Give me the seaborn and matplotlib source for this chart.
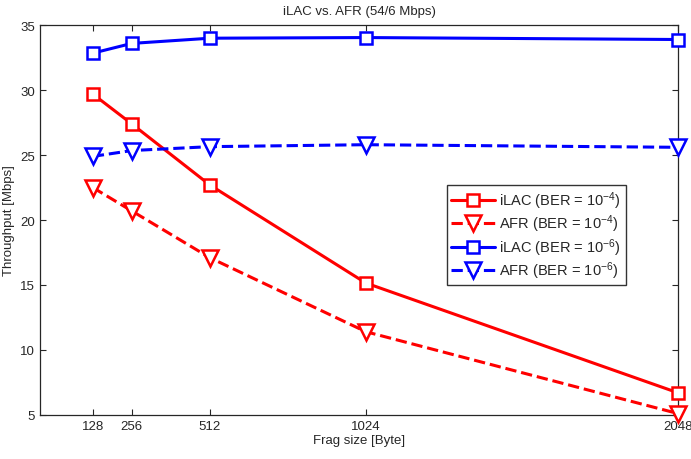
import pandas as pd
import seaborn as sns
import matplotlib.pyplot as plt

# data
frag_size = [128, 256, 512, 1024, 2048]
ilac_ber4 = [29.7, 27.4, 22.7, 15.15, 6.7]
afr_ber4 = [22.5, 20.7, 17.1, 11.4, 5.1]
ilac_ber6 = [32.85, 33.6, 34.0, 34.05, 33.9]
afr_ber6 = [24.9, 25.35, 25.65, 25.8, 25.6]

sns.set_style("ticks")
plt.rcParams['font.family'] = ['Liberation Sans', 'DejaVu Sans']
plt.rcParams['mathtext.fontset'] = 'custom'
plt.rcParams['mathtext.rm'] = 'Liberation Sans'
plt.rcParams['mathtext.it'] = 'Liberation Sans'
plt.rcParams['xtick.direction'] = 'in'
plt.rcParams['ytick.direction'] = 'in'

fig = plt.figure(figsize=(6.91, 4.60), dpi=100)
ax = fig.add_axes([0.058, 0.096, 0.923, 0.847])

series = [
    (ilac_ber4, 'iLAC (BER = $10^{-4}$)', 'red', '-', 's', 9),
    (afr_ber4, 'AFR (BER = $10^{-4}$)', 'red', '--', 'v', 11),
    (ilac_ber6, 'iLAC (BER = $10^{-6}$)', 'blue', '-', 's', 9),
    (afr_ber6, 'AFR (BER = $10^{-6}$)', 'blue', '--', 'v', 11),
]
for vals, lab, col, ls, mk, ms in series:
    df = pd.DataFrame({'frag': frag_size, 'thr': vals})
    sns.lineplot(data=df, x='frag', y='thr', ax=ax, color=col, linestyle=ls,
                 marker=mk, markersize=ms, markerfacecolor='white',
                 markeredgecolor=col, markeredgewidth=1.8, linewidth=2.2,
                 label=lab, clip_on=False, zorder=3)

ax.set_xlim(-45, 2048)
ax.set_ylim(5, 35)
ax.set_xticks(frag_size)
ax.set_yticks([5, 10, 15, 20, 25, 30, 35])
ax.tick_params(labelsize=9.5, top=True, right=True, length=4, width=0.8)
for s in ax.spines.values():
    s.set_linewidth(0.9)
ax.set_xlabel('Frag size [Byte]', fontsize=9.5, labelpad=2)
ax.set_ylabel('Throughput [Mbps]', fontsize=9.5, labelpad=4)
ax.set_title('iLAC vs. AFR (54/6 Mbps)', fontsize=9.5, pad=8)

leg = ax.legend(loc='upper left', bbox_to_anchor=(0.638, 0.59), fontsize=10.5,
                frameon=True, fancybox=False, edgecolor='black',
                handlelength=3.0, borderpad=0.3, labelspacing=0.12,
                handletextpad=0.3, borderaxespad=0)
leg.get_frame().set_linewidth(1.0)
leg.set_zorder(5)

fig.savefig('out.png', dpi=100)
